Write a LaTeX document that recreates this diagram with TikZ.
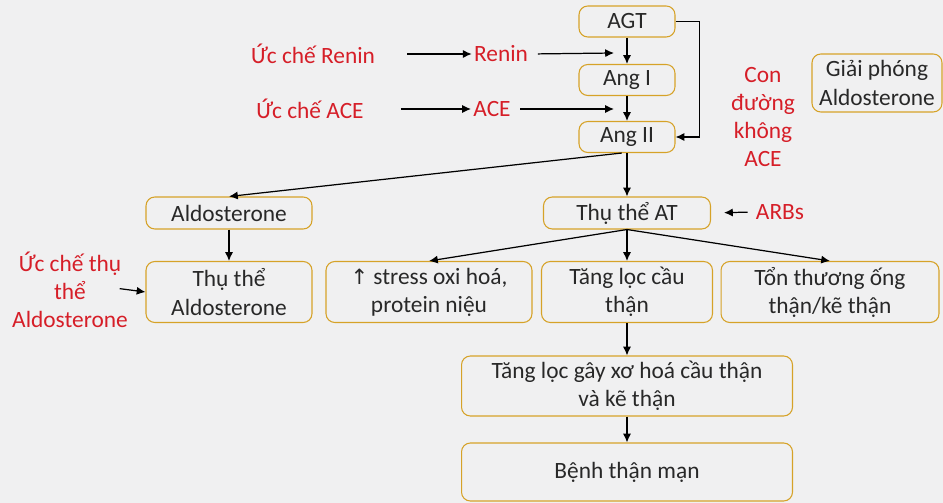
\documentclass[tikz,border=0pt]{standalone}
\usepackage{fontspec}
\setmainfont{Carlito}
\newfontfamily\symfont{DejaVu Sans}
\usetikzlibrary{positioning,arrows.meta}
\definecolor{rim}{RGB}{214,162,40}
\definecolor{redtx}{RGB}{214,30,40}
\definecolor{ink}{RGB}{40,40,40}
\definecolor{bg}{RGB}{240,240,241}

\begin{document}
\begin{tikzpicture}
  [x=0.02cm,y=-0.02cm,>={Latex[length=5pt,width=4.6pt]},line width=0.7pt,
   every node/.style={font=\fontsize{13.3}{16}\selectfont,text=ink,align=center,inner sep=1pt},
   box/.style={draw=rim,fill=bg,rounded corners=5pt,line width=0.6pt},
   redlbl/.style={text=redtx}]
  \fill[bg] (0,0) rectangle (943,503);
  \useasboundingbox (0,0) rectangle (943,503);

  \node[box,minimum width=1.92cm,minimum height=0.62cm] (agt) at (627,21.5) {AGT};
  \node[box,minimum width=1.92cm,minimum height=0.62cm] (angI) at (627,80) {Ang I};
  \node[box,minimum width=1.92cm,minimum height=0.62cm] (angII) at (627,137) {Ang II};
  \node[box,minimum width=2.6cm,minimum height=1.16cm] (giai) at (877,83) {Giải phóng\\Aldosterone};

  \node[redlbl] (ucRenin) at (313,54) {Ức chế Renin};
  \node[redlbl] (renin) at (501,54) {Renin};
  \node[redlbl] (ucACE) at (310,109) {Ức chế ACE};
  \node[redlbl] (ace) at (492,109) {ACE};
  \node[redlbl] (conDuong) at (763,117) {Con\\đường\\không\\ACE};
  \coordinate (r1) at (614,53);
  \coordinate (r2) at (614,109);

  \node[box,minimum width=3.32cm,minimum height=0.64cm] (ald) at (229,213) {Aldosterone};
  \node[box,minimum width=3.34cm,minimum height=0.64cm] (at) at (627,213) {Thụ thể AT};
  \node[redlbl] (arbs) at (780,212) {ARBs};

  \node[box,minimum width=3.32cm,minimum height=1.22cm] (thuAld) at (229,292) {Thụ thể\\Aldosterone};
  \node[box,minimum width=4.12cm,minimum height=1.22cm] (stress) at (429,292) {{\symfont\fontsize{12}{16}\selectfont ↑} stress oxi hoá,\\protein niệu};
  \node[box,minimum width=3.42cm,minimum height=1.22cm] (loc) at (627,292) {Tăng lọc cầu\\thận};
  \node[box,minimum width=4.36cm,minimum height=1.22cm] (ton) at (830,292) {Tổn thương ống\\thận/kẽ thận};
  \node[redlbl] (ucThu) at (70,290) {Ức chế thụ\\thể\\Aldosterone};

  \node[box,minimum width=6.62cm,minimum height=1.2cm] (xoHoa) at (627,386) {Tăng lọc gây xơ hoá cầu thận\\và kẽ thận};
  \node[box,minimum width=6.62cm,minimum height=1.16cm] (benh) at (627,472) {Bệnh thận mạn};

  \foreach \from/\to in {agt/angI,angI/angII,angII/at,ald/thuAld,at/stress,at/loc,at/ton,loc/xoHoa,xoHoa/benh}
    \draw[->] (\from.south) -- (\to.north);
  \draw[->] ([xshift=-3pt]angII.south) -- (ald.north);
  \draw[->] (agt.east) -- ++(24,0) |- (angII.east);
  \draw[->,shorten <=0.6cm] (ucRenin.east) -- (renin.west);
  \draw[->,shorten <=0.7cm] (ucACE.east) -- (ace.west);
  \draw[->,shorten <=0.15cm] (renin.east) -- (r1);
  \draw[->,shorten <=0.15cm] (ace.east) -- (r2);
  \draw[->,shorten <=0.12cm,shorten >=0.26cm] (arbs.west) -- (at.east);
  \draw[->,shorten <=-6pt] (ucThu.east) -- (thuAld.west);
\end{tikzpicture}
\end{document}
